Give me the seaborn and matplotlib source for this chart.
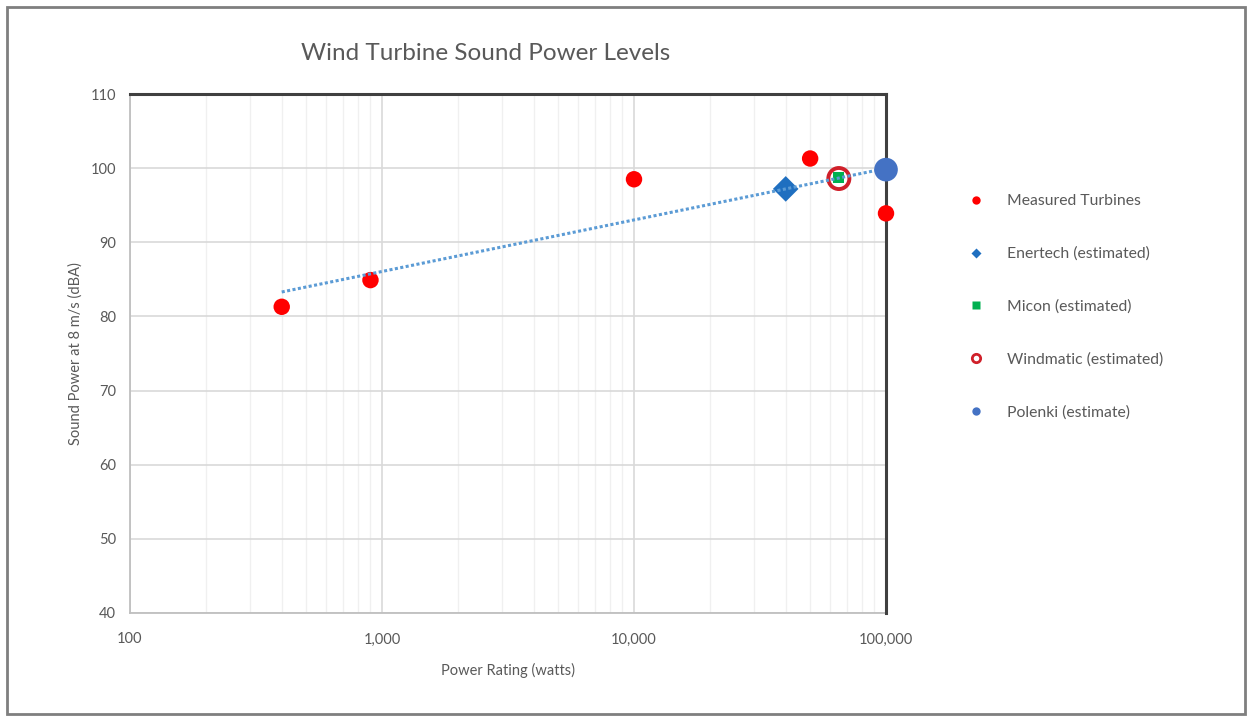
import numpy as np
import pandas as pd
import matplotlib
matplotlib.use("Agg")
import matplotlib.pyplot as plt
import matplotlib.ticker as mticker
from matplotlib.lines import Line2D
from matplotlib.patches import Rectangle
import seaborn as sns

# ---- data ----
measured_x = [400, 900, 10000, 50000, 100000]
measured_y = [81.3, 84.9, 98.5, 101.3, 93.9]
enertech_x = [40000]
enertech_y = [97.2]
micon_x = [65000]
micon_y = [98.7]
windmatic_x = [65000]
windmatic_y = [98.6]
polenki_x = [100000]
polenki_y = [99.8]

x_ticks = [100, 1000, 10000, 100000]
y_ticks = [40, 50, 60, 70, 80, 90, 100, 110]

title = "Wind Turbine Sound Power Levels"
xlabel = "Power Rating (watts)"
ylabel = "Sound Power at 8 m/s (dBA)"
labels = ["Measured Turbines", "Enertech (estimated)", "Micon (estimated)",
          "Windmatic (estimated)", "Polenki (estimate)"]

sns.set_theme(style="white")
plt.rcParams['font.family'] = ['Lato', 'DejaVu Sans']
txt = "#595959"

fig = plt.figure(figsize=(12.49, 7.17), dpi=100)
ax = fig.add_axes([130/1249, 1-613/717, (886-130)/1249, (613-94)/717])

df_m = pd.DataFrame({"x": measured_x, "y": measured_y})

# trendline (log fit of measured turbines)
sns.regplot(data=df_m, x="x", y="y", logx=True, scatter=False, ci=None, ax=ax,
            line_kws=dict(color="#5B9BD5", lw=2.2, ls=(0, (1, 0.8)), zorder=6))

sns.scatterplot(x=measured_x, y=measured_y, ax=ax, color="#FF0000", s=140,
                edgecolor="none", zorder=4, clip_on=False)
sns.scatterplot(x=enertech_x, y=enertech_y, ax=ax, color="#1F6FC0", marker="D",
                s=170, edgecolor="none", zorder=4, clip_on=False)
sns.scatterplot(x=windmatic_x, y=windmatic_y, ax=ax, marker="o", s=230,
                facecolor="none", edgecolor="#D0202A", linewidth=2.8, zorder=4,
                clip_on=False)
sns.scatterplot(x=micon_x, y=micon_y, ax=ax, color="#00B050", marker="s",
                s=60, edgecolor="none", zorder=5, clip_on=False)
sns.scatterplot(x=polenki_x, y=polenki_y, ax=ax, color="#4472C4", s=290,
                edgecolor="none", zorder=7, clip_on=False)

ax.set_xscale("log")
ax.set_xlim(100, 100000)
ax.set_ylim(40, 110)
ax.xaxis.set_major_locator(mticker.FixedLocator(x_ticks))
ax.xaxis.set_major_formatter(mticker.FuncFormatter(lambda v, p: f"{int(round(v)):,}"))
ax.xaxis.set_minor_locator(mticker.LogLocator(base=10, subs=np.arange(2, 10)))
ax.xaxis.set_minor_formatter(mticker.NullFormatter())
ax.set_yticks(y_ticks)

ax.grid(True, which="major", axis="both", color="#D9D9D9", lw=1.2)
ax.grid(True, which="minor", axis="x", color="#F0F0F0", lw=1.0)
ax.set_axisbelow(True)
ax.tick_params(axis="both", which="both", length=0, labelsize=10.5, colors=txt)
ax.tick_params(axis="x", pad=14)
ax.tick_params(axis="y", pad=10)

for s in ["left", "bottom"]:
    ax.spines[s].set_color("#BFBFBF")
    ax.spines[s].set_linewidth(1.3)
for s in ["top", "right"]:
    ax.spines[s].set_color("#404040")
    ax.spines[s].set_linewidth(2.2)
    ax.spines[s].set_visible(True)
    ax.spines[s].set_zorder(3)

ax.set_xlabel(xlabel, fontsize=10.5, color=txt, labelpad=12)
ax.set_ylabel(ylabel, fontsize=10.5, color=txt, labelpad=6)

fig.text(486/1249, 1-53/717, title, ha="center", va="center", fontsize=17.5, color=txt)

handles = [
    Line2D([], [], ls="none", marker="o", ms=6, mfc="#FF0000", mec="none"),
    Line2D([], [], ls="none", marker="D", ms=5.5, mfc="#1F6FC0", mec="none"),
    Line2D([], [], ls="none", marker="s", ms=6, mfc="#00B050", mec="none"),
    Line2D([], [], ls="none", marker="o", ms=6, mfc="none", mec="#D0202A", mew=2),
    Line2D([], [], ls="none", marker="o", ms=6, mfc="#4472C4", mec="none"),
]
leg = fig.legend(handles, labels, loc="upper left", bbox_to_anchor=(960/1249, 1-188/717),
                 frameon=False, fontsize=11.3, labelspacing=2.45, handletextpad=1.4,
                 handlelength=1.2, borderaxespad=0)
for t in leg.get_texts():
    t.set_color(txt)

fig.patches.append(Rectangle((7/1249, 3/717), 1238/1249, 707/717, transform=fig.transFigure,
                             fill=False, edgecolor="#7F7F7F", lw=2))

fig.savefig("out.png", dpi=100)
